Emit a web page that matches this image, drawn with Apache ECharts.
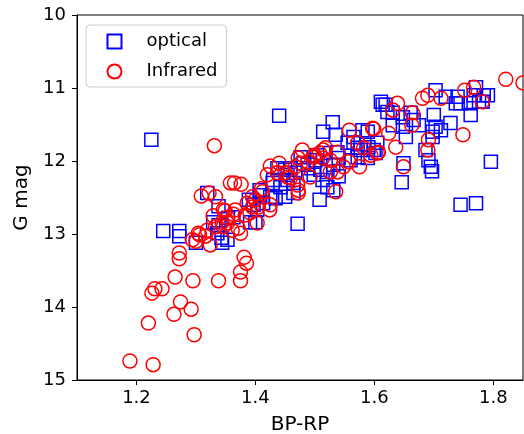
<!DOCTYPE html>
<html>
<head>
<meta charset="utf-8">
<script src="https://cdn.jsdelivr.net/npm/echarts@6/dist/echarts.min.js"></script>
<style>html,body{margin:0;padding:0;background:#fff}#c{width:524px;height:434px}</style>
</head>
<body>
<div id="c"></div>
<script>
// ---- data ----
const xTicks = [1.2, 1.4, 1.6, 1.8];
const yTicks = [10, 11, 12, 13, 14, 15];
const seriesNames = ['optical', 'Infrared'];

const opticalBpRp = [1.225,1.245,1.272,1.272,1.300,1.336,1.343,1.344,1.319,1.338,1.338,1.329,1.363,1.391,1.400,1.407,1.425,1.429,1.442,1.454,1.459,1.471,1.450,1.403,1.440,1.530,1.514,1.535,1.580,1.589,1.614,1.622,1.565,1.572,1.590,1.605,1.602,1.589,1.560,1.504,1.514,1.538,1.540,1.531,1.540,1.521,1.513,1.498,1.488,1.467,1.464,1.521,1.611,1.464,1.508,1.531,1.509,1.501,1.489,1.476,1.481,1.450,1.437,1.454,1.430,1.434,1.413,1.408,1.397,1.389,1.354,1.353,1.565,1.572,1.577,1.555,1.703,1.720,1.737,1.740,1.745,1.762,1.767,1.782,1.619,1.631,1.648,1.661,1.666,1.648,1.631,1.675,1.700,1.703,1.698,1.712,1.728,1.698,1.653,1.686,1.691,1.649,1.695,1.646,1.697,1.796,1.745,1.771,1.771,1.784,1.791,1.762,1.776,1.599];
const opticalGmag = [11.71,12.96,12.96,13.03,13.12,12.99,13.05,13.12,12.44,12.62,12.88,12.84,12.77,12.84,12.84,12.40,12.49,12.30,12.36,12.19,12.10,12.86,12.49,12.67,11.38,11.47,11.60,11.64,11.58,11.60,11.23,11.33,11.75,11.82,11.81,11.75,11.89,11.96,11.99,11.92,11.89,11.88,11.96,12.05,12.21,12.15,12.26,12.19,12.05,12.16,12.30,12.36,11.19,12.44,12.53,12.40,12.12,11.99,12.10,11.95,12.03,12.12,12.10,12.26,12.26,12.51,12.58,12.47,12.60,12.53,12.78,13.08,11.67,11.95,11.85,11.75,11.03,11.12,11.21,11.12,11.21,11.37,11.10,11.19,11.23,11.34,11.40,11.34,11.44,11.53,11.51,11.51,11.37,11.53,11.60,11.58,11.48,11.67,11.67,11.85,11.99,12.03,12.08,12.29,12.14,12.01,12.60,12.58,10.99,11.10,11.10,11.21,11.19,11.85];

const infraredBpRp = [1.189,1.228,1.220,1.263,1.274,1.292,1.297,1.226,1.231,1.243,1.265,1.295,1.338,1.272,1.272,1.300,1.306,1.324,1.319,1.333,1.353,1.381,1.385,1.375,1.375,1.331,1.309,1.322,1.333,1.329,1.349,1.294,1.358,1.365,1.376,1.410,1.425,1.440,1.420,1.437,1.454,1.386,1.400,1.405,1.424,1.346,1.353,1.363,1.344,1.371,1.375,1.395,1.391,1.395,1.412,1.383,1.425,1.472,1.499,1.518,1.479,1.450,1.459,1.471,1.472,1.538,1.548,1.476,1.488,1.467,1.498,1.508,1.513,1.492,1.526,1.557,1.575,1.582,1.594,1.607,1.535,1.472,1.558,1.599,1.624,1.639,1.631,1.664,1.663,1.636,1.681,1.690,1.712,1.691,1.690,1.749,1.752,1.767,1.782,1.821,1.850,1.649,1.605,1.597,1.572,1.304,1.316,1.403,1.346,1.361,1.366,1.526,1.514,1.538];
const infraredGmag = [14.74,14.79,14.22,14.10,13.93,14.03,14.38,13.81,13.75,13.75,13.59,13.64,13.64,13.26,13.34,13.10,13.01,13.15,12.95,12.90,12.85,13.32,13.40,13.52,13.64,11.79,12.48,12.44,12.49,12.75,12.68,13.08,12.30,12.30,12.32,12.38,12.07,12.03,12.19,12.16,12.22,12.58,12.53,12.63,12.67,12.67,12.77,12.73,12.84,12.92,12.99,12.63,12.71,12.49,12.42,12.74,12.60,11.96,11.92,11.82,11.85,12.16,12.23,12.33,12.44,12.15,12.08,12.03,12.01,12.08,11.95,11.89,11.96,12.22,12.15,12.01,12.08,11.82,11.92,11.88,12.42,12.40,11.58,11.56,11.62,11.21,11.30,11.34,11.51,11.81,11.14,11.10,11.14,11.71,11.85,11.64,11.03,10.99,11.19,10.88,10.93,12.08,11.89,11.55,11.75,12.99,13.03,12.85,12.90,12.95,12.67,11.99,11.85,11.88];

function pairs(xs, ys) { return xs.map((x, i) => [x, ys[i]]); }

const FONT = 'DejaVu Sans';
const chart = echarts.init(document.getElementById('c'), null, {renderer: 'canvas'});
chart.setOption({
  animation: false,
  backgroundColor: '#ffffff',
  grid: {left: 77, right: 1, top: 15, bottom: 54, containLabel: false, outerBoundsMode: 'none',
         show: true, borderColor: '#000', borderWidth: 1, backgroundColor: 'transparent'},
  legend: {
    orient: 'vertical', left: 86, top: 25,
    padding: [7, 9, 6, 19],
    itemWidth: 14, itemHeight: 14, itemGap: 11,
    backgroundColor: 'rgba(255,255,255,0.8)', borderColor: '#cccccc', borderWidth: 1, borderRadius: 4,
    formatter: name => '{t|' + name + '}',
    textStyle: {
      fontFamily: FONT, fontSize: 18, color: '#000', lineHeight: 18,
      rich: {t: {fontFamily: FONT, fontSize: 18, color: '#000', lineHeight: 18, padding: [0, 0, 0, 20]}}
    },
    data: [
      {name: seriesNames[0], icon: 'rect'},
      {name: seriesNames[1], icon: 'circle'}
    ]
  },
  xAxis: {
    type: 'value', min: 1.1, max: 1.85, interval: 0.1,
    name: 'BP-RP', nameLocation: 'middle', nameGap: 35,
    nameTextStyle: {fontFamily: FONT, fontSize: 20, color: '#000'},
    axisLine: {show: true, onZero: false, lineStyle: {color: '#000', width: 1}},
    axisTick: {show: true, length: 5, lineStyle: {color: '#000'}, customValues: xTicks},
    axisLabel: {fontFamily: FONT, fontSize: 18, color: '#000', margin: 9, customValues: xTicks, formatter: v => v.toFixed(1)},
    splitLine: {show: false}
  },
  yAxis: {
    type: 'value', min: 10, max: 15, interval: 1, inverse: true,
    name: 'G mag', nameLocation: 'middle', nameGap: 41, nameRotate: 90,
    nameTextStyle: {fontFamily: FONT, fontSize: 20, color: '#000'},
    axisLine: {show: true, onZero: false, lineStyle: {color: '#000', width: 1}},
    axisTick: {show: true, length: 5, lineStyle: {color: '#000'}, customValues: yTicks},
    axisLabel: {fontFamily: FONT, fontSize: 18, color: '#000', margin: 11, customValues: yTicks},
    splitLine: {show: false}
  },
  series: [
    {
      name: seriesNames[0], type: 'scatter', symbol: 'rect', symbolSize: 13,
      itemStyle: {color: 'none', borderColor: '#0000ff', borderWidth: 1.5, opacity: 1},
      data: pairs(opticalBpRp, opticalGmag), clip: true
    },
    {
      name: seriesNames[1], type: 'scatter', symbol: 'circle', symbolSize: 14,
      itemStyle: {color: 'none', borderColor: '#ff0000', borderWidth: 1.5, opacity: 1},
      data: pairs(infraredBpRp, infraredGmag), clip: true
    }
  ]
});
</script>
</body>
</html>
